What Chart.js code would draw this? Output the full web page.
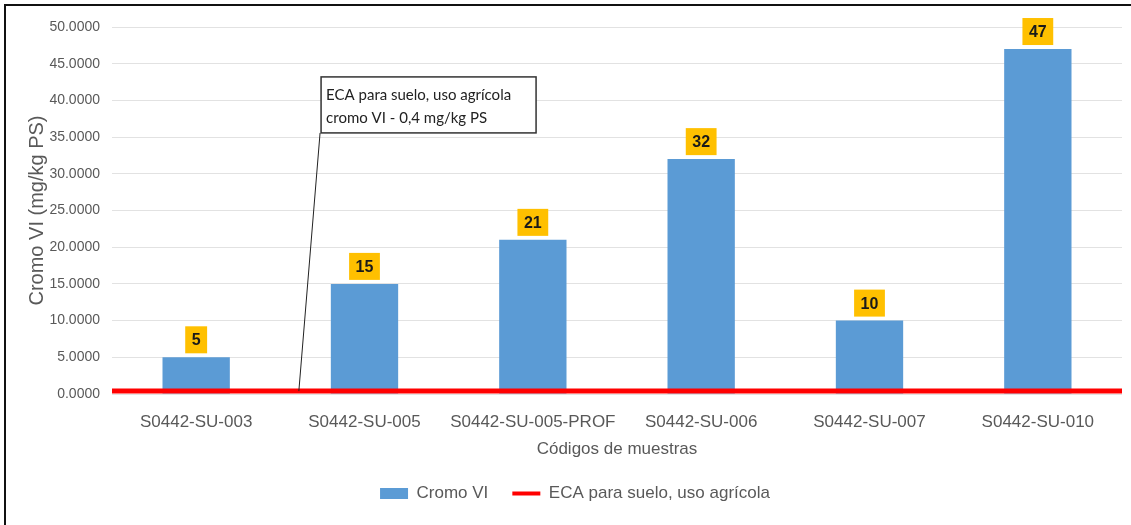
<!DOCTYPE html>
<html>
<head>
<meta charset="utf-8">
<script src="https://cdn.jsdelivr.net/npm/chart.js@4"></script>
<style>
  html, body { margin: 0; padding: 0; background: #fff; }
  #wrap { width: 1131px; height: 525px; position: relative; }
</style>
</head>
<body>
<div id="wrap"><canvas id="chart"></canvas></div>
<script>
// Datos del gráfico
const muestras = ['S0442-SU-003', 'S0442-SU-005', 'S0442-SU-005-PROF', 'S0442-SU-006', 'S0442-SU-007', 'S0442-SU-010'];
const cromoVI = [5, 15, 21, 32, 10, 47];
const ecaLimite = 0.4;
const yTicks = [0, 5, 10, 15, 20, 25, 30, 35, 40, 45, 50];
const calloutLines = ['ECA para suelo, uso agrícola', 'cromo VI - 0,4 mg/kg PS'];

const grisTexto = '#595959';
const azul = '#5B9BD5';
const rojo = '#FF0000';
const amarillo = '#FFC000';

// Marco exterior
const marcoPlugin = {
    id: 'marco',
    beforeDraw(chart) {
        const ctx = chart.ctx;
        ctx.save();
        ctx.fillStyle = '#fff';
        ctx.fillRect(0, 0, chart.width, chart.height);
        ctx.fillStyle = '#111';
        ctx.fillRect(4, 4, 2, chart.height - 4);
        ctx.fillRect(4, 4, chart.width - 4, 2);
        ctx.restore();
    }
};

// Etiquetas amarillas sobre las barras
const etiquetasPlugin = {
    id: 'etiquetas',
    afterDatasetsDraw(chart) {
        const ctx = chart.ctx;
        const meta = chart.getDatasetMeta(0);
        const data = chart.data.datasets[0].data;
        ctx.save();
        ctx.font = 'bold 16px "Liberation Sans Narrow", "Liberation Sans", Arial';
        ctx.textAlign = 'center';
        ctx.textBaseline = 'middle';
        meta.data.forEach((bar, i) => {
            const txt = String(data[i]);
            const w = ctx.measureText(txt).width + 13;
            const h = 27;
            let bottom = bar.y - 4;
            // la etiqueta del valor máximo está desplazada hacia arriba
            if (bottom - h < 8) {
                bottom = 34;
                ctx.strokeStyle = '#d0d0d0';
                ctx.lineWidth = 1;
                ctx.beginPath();
                ctx.moveTo(bar.x, bottom);
                ctx.lineTo(bar.x, bar.y);
                ctx.stroke();
            }
            ctx.fillStyle = amarillo;
            ctx.fillRect(bar.x - w / 2, bottom - h, w, h);
            ctx.fillStyle = '#1a1a1a';
            ctx.fillText(txt, bar.x, bottom - h / 2 + 1);
        });
        ctx.restore();
    }
};

// Llamada con la nota de la ECA
const llamadaPlugin = {
    id: 'llamada',
    afterDraw(chart) {
        const ctx = chart.ctx;
        const xs = chart.scales.x2;
        const ys = chart.scales.y;
        const bx = xs.getPixelForValue(1.242);
        const by = ys.getPixelForValue(43.2);
        const bw = 215, bh = 56;
        ctx.save();
        ctx.strokeStyle = '#222';
        ctx.lineWidth = 1;
        ctx.beginPath();
        ctx.moveTo(bx - 1, by + bh);
        ctx.lineTo(xs.getPixelForValue(1.11), ys.getPixelForValue(ecaLimite));
        ctx.stroke();
        ctx.fillStyle = '#fff';
        ctx.fillRect(bx, by, bw, bh);
        ctx.strokeStyle = '#333';
        ctx.lineWidth = 1.5;
        ctx.strokeRect(bx, by, bw, bh);
        ctx.fillStyle = '#222';
        ctx.font = '15px Lato, "Open Sans", sans-serif';
        ctx.textAlign = 'left';
        ctx.textBaseline = 'middle';
        ctx.fillText(calloutLines[0], bx + 5, by + 18);
        ctx.fillText(calloutLines[1], bx + 5, by + 41);
        ctx.restore();
    }
};

new Chart(document.getElementById('chart'), {
    type: 'bar',
    data: {
        labels: muestras,
        datasets: [{
            type: 'bar',
            label: 'Cromo VI',
            data: cromoVI,
            backgroundColor: azul,
            barPercentage: 0.4,
            categoryPercentage: 1,
            grouped: false,
            order: 1
        }, {
            type: 'line',
            label: 'ECA para suelo, uso agrícola',
            data: [{ x: 0, y: ecaLimite }, { x: muestras.length, y: ecaLimite }],
            xAxisID: 'x2',
            borderColor: rojo,
            borderWidth: 5,
            pointRadius: 0,
            order: 0
        }]
    },
    options: {
        responsive: true,
        maintainAspectRatio: false,
        animation: false,
        layout: { padding: { left: 28, right: 9, top: 27, bottom: 13 } },
        scales: {
            x: {
                type: 'category',
                offset: true,
                grid: { display: false, drawTicks: false },
                border: { display: false },
                ticks: { color: grisTexto, padding: 18, maxRotation: 0, autoSkip: false, font: { family: '"Liberation Sans", Arial', size: 17 } },
                title: { display: true, text: 'Códigos de muestras', color: grisTexto, padding: { top: 0, bottom: 1 }, font: { family: '"Liberation Sans", Arial', size: 17 } },
                afterFit(scale) { scale.height = 67; }
            },
            x2: {
                type: 'linear',
                display: false,
                offset: false,
                min: 0,
                max: muestras.length
            },
            y: {
                min: 0,
                max: 50,
                afterBuildTicks(scale) { scale.ticks = yTicks.map(v => ({ value: v })); },
                grid: { color: '#e2e2e2', drawTicks: false },
                border: { display: false },
                ticks: { color: grisTexto, padding: 12, font: { family: '"Liberation Sans", Arial', size: 14 }, callback: v => v.toFixed(4) },
                title: { display: true, text: 'Cromo VI (mg/kg PS)', color: grisTexto, padding: { top: -3, bottom: 0 }, font: { family: '"Liberation Sans", Arial', size: 20 } },
                afterFit(scale) { scale.width = 84; }
            }
        },
        plugins: {
            tooltip: { enabled: false },
            legend: {
                position: 'bottom',
                labels: {
                    usePointStyle: true,
                    pointStyleWidth: 28,
                    boxHeight: 11,
                    padding: 24,
                    color: grisTexto,
                    font: { family: '"Liberation Sans", Arial', size: 17 },
                    generateLabels: () => [
                        { text: 'Cromo VI', fillStyle: azul, strokeStyle: azul, lineWidth: 0, pointStyle: 'rect', datasetIndex: 0, fontColor: grisTexto },
                        { text: 'ECA para suelo, uso agrícola', fillStyle: rojo, strokeStyle: rojo, lineWidth: 4, pointStyle: 'line', datasetIndex: 1, fontColor: grisTexto }
                    ]
                }
            }
        }
    },
    plugins: [marcoPlugin, etiquetasPlugin, llamadaPlugin]
});
</script>
</body>
</html>
